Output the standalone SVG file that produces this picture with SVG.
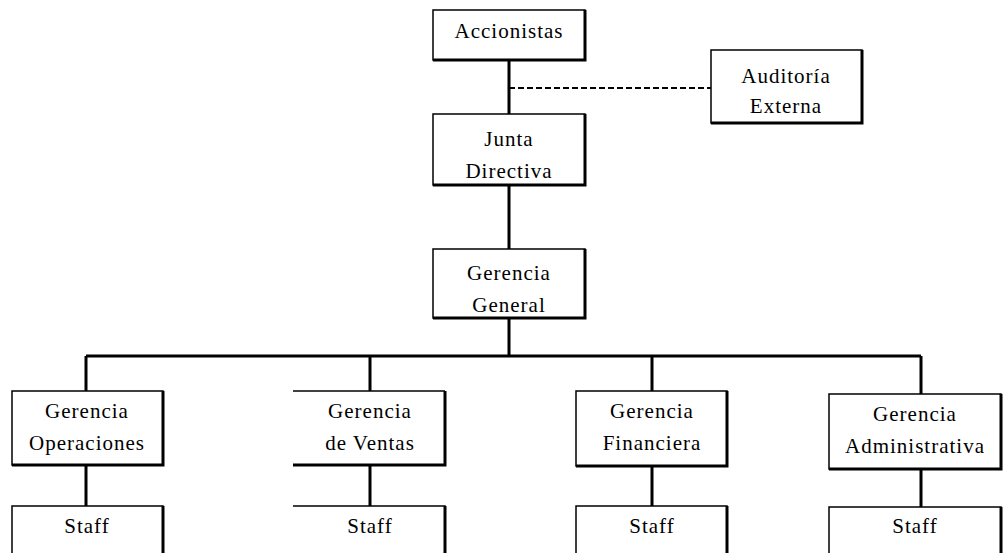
<svg xmlns="http://www.w3.org/2000/svg" width="1003" height="553" viewBox="0 0 1003 553">
<style>
.box{fill:#fff;stroke:#000;stroke-width:1.5}
.sh{fill:none;stroke:#000;stroke-width:3}
.ln{fill:none;stroke:#000;stroke-width:3}
.dash{fill:none;stroke:#000;stroke-width:2;stroke-dasharray:6 3}
text{font-family:"Liberation Serif","Times New Roman",serif;font-size:21px;letter-spacing:1px;fill:#000;text-anchor:middle}
</style>
<rect width="1003" height="553" fill="#fff"/>
<g id="connectors">
<path class="ln" d="M509 60V114M509 185V249M509 318V356"/>
<path class="dash" d="M509 88H711"/>
<path class="ln" d="M86 356H921M86 356V391M370 356V391M652 356V391M921 356V394"/>
<path class="ln" d="M86 465V506M370 465V506M652 466V506M921 469V507"/>
</g>
<g id="accionistas">
<rect class="box" x="433" y="10" width="152" height="50"/>
<path class="sh" d="M433 60H585V10"/>
<text x="509" y="38">Accionistas</text>
</g>
<g id="auditoria">
<rect class="box" x="711" y="50" width="151" height="73"/>
<path class="sh" d="M711 123H862V50"/>
<text x="786" y="83">Auditoría</text>
<text x="786" y="113">Externa</text>
</g>
<g id="junta">
<rect class="box" x="433" y="114" width="152" height="71"/>
<path class="sh" d="M433 185H585V114"/>
<text x="509" y="146">Junta</text>
<text x="509" y="178">Directiva</text>
</g>
<g id="gerencia-general">
<rect class="box" x="433" y="249" width="152" height="69"/>
<path class="sh" d="M433 318H585V249"/>
<text x="509" y="280">Gerencia</text>
<text x="509" y="312">General</text>
</g>
<g id="operaciones">
<rect class="box" x="12" y="391" width="151" height="74"/>
<path class="sh" d="M12 465H163V391"/>
<text x="87" y="418">Gerencia</text>
<text x="87" y="450">Operaciones</text>
</g>
<g id="ventas">
<path fill="#fff" d="M293 391H445V465H293Z"/>
<path class="box" d="M293 391H445"/>
<path class="sh" d="M293 465H445V391"/>
<text x="370" y="418">Gerencia</text>
<text x="370" y="450">de Ventas</text>
</g>
<g id="financiera">
<rect class="box" x="576" y="391" width="151" height="75"/>
<path class="sh" d="M576 466H727V391"/>
<text x="652" y="418">Gerencia</text>
<text x="652" y="450">Financiera</text>
</g>
<g id="administrativa">
<rect class="box" x="829" y="394" width="172" height="75"/>
<path class="sh" d="M829 469H1001V394"/>
<text x="915" y="421">Gerencia</text>
<text x="915" y="453">Administrativa</text>
</g>
<g id="staff-op">
<path class="box" d="M12 553V506H163V553"/>
<path class="sh" d="M163 506V553"/>
<text x="87" y="533">Staff</text>
</g>
<g id="staff-ventas">
<path class="box" d="M293 506H445V553"/>
<path class="sh" d="M445 506V553"/>
<text x="370" y="533">Staff</text>
</g>
<g id="staff-fin">
<path class="box" d="M576 553V506H727V553"/>
<path class="sh" d="M727 506V553"/>
<text x="652" y="533">Staff</text>
</g>
<g id="staff-adm">
<path class="box" d="M829 553V507H1001V553"/>
<path class="sh" d="M1001 507V553"/>
<text x="915" y="533">Staff</text>
</g>
</svg>
